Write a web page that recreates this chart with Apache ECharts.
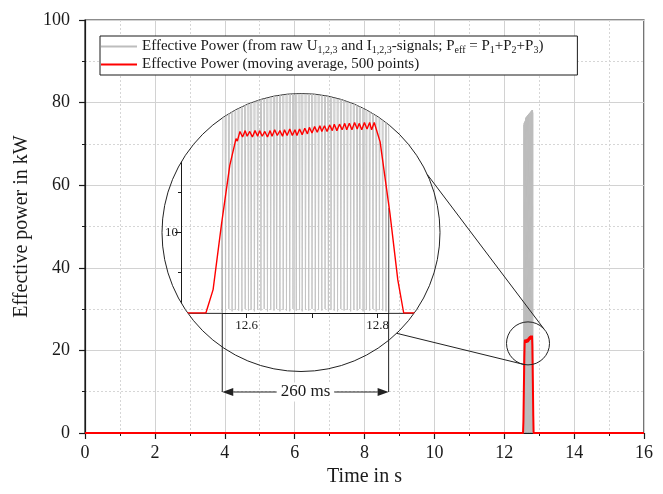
<!DOCTYPE html>
<html>
<head>
<meta charset="utf-8">
<script src="https://cdn.jsdelivr.net/npm/echarts@6/dist/echarts.min.js"></script>
<style>
  html, body { margin: 0; padding: 0; background: #fff; }
  #wrap { position: relative; width: 663px; height: 494px; }
  #main { position: absolute; left: 0; top: 0; width: 663px; height: 494px; }
  #inset { position: absolute; left: 150px; top: 60px; width: 300px; height: 330px;
           clip-path: circle(139px at 151px 172.5px); }
</style>
</head>
<body>
<div id="wrap">
  <div id="main"></div>
  <div id="inset"></div>
</div>
<script>
// Raw effective power P_eff = P1+P2+P3 (kW), peaks and troughs of the sampled signal
const rawTime = [0, 12.563,
  12.566, 12.568, 12.571, 12.573, 12.576, 12.578, 12.581, 12.583, 12.585, 12.588,
  12.590, 12.593, 12.595, 12.598, 12.600, 12.603, 12.605, 12.607, 12.610, 12.612,
  12.615, 12.617, 12.620, 12.622, 12.625, 12.627, 12.629, 12.632, 12.634, 12.637,
  12.639, 12.642, 12.644, 12.646, 12.649, 12.651, 12.654, 12.656, 12.659, 12.661,
  12.664, 12.666, 12.669, 12.671, 12.673, 12.676, 12.678, 12.681, 12.683, 12.685,
  12.688, 12.690, 12.693, 12.695, 12.698, 12.700, 12.703, 12.705, 12.708, 12.710,
  12.713, 12.715, 12.717, 12.720, 12.722, 12.725, 12.727, 12.729, 12.732, 12.734,
  12.737, 12.739, 12.742, 12.744, 12.747, 12.749, 12.752, 12.754, 12.757, 12.759,
  12.761, 12.764, 12.766, 12.769, 12.771, 12.773, 12.776, 12.778, 12.781, 12.783,
  12.786, 12.788, 12.791, 12.793, 12.796, 12.798, 12.801, 12.803, 12.805, 12.808,
  12.810, 12.813, 12.815, 12.818,
  16];
const rawPower = [0, 0,
  74.6, 0.3, 75.1, 0.5, 74.9, 0.2, 75.3, 0.4, 75.0, 0.3,
  75.4, 0.2, 75.2, 0.5, 75.6, 0.3, 75.3, 0.4, 75.5, 0.2,
  76.2, 0.4, 76.0, 0.3, 76.4, 0.5, 76.1, 0.2, 76.5, 0.4,
  76.3, 0.3, 76.6, 0.5, 76.4, 0.2, 76.7, 0.4, 76.5, 0.3,
  76.8, 0.2, 76.6, 0.5, 76.9, 0.3, 76.7, 0.4, 77.0, 0.2,
  76.8, 0.4, 77.1, 0.3, 76.9, 0.5, 77.2, 0.2, 77.0, 0.4,
  77.3, 0.3, 77.1, 0.5, 77.4, 0.2, 77.2, 0.4, 77.5, 0.3,
  77.3, 0.2, 77.6, 0.5, 77.4, 0.3, 77.7, 0.4, 77.5, 0.2,
  77.8, 0.4, 77.6, 0.3, 77.9, 0.5, 77.7, 0.2, 78.0, 0.4,
  77.8, 0.3, 78.1, 0.5, 77.9, 0.2, 78.2, 0.4, 78.0, 0.3,
  78.2, 0.2, 77.6, 0,
  0];

// Moving average over 500 points (kW)
const avgTime = [0, 12.538, 12.549, 12.562, 12.5745, 12.584, 12.586,
  12.590, 12.594, 12.598, 12.601, 12.605, 12.609, 12.613, 12.617, 12.620, 12.624,
  12.628, 12.632, 12.636, 12.639, 12.643, 12.647, 12.651, 12.655, 12.658, 12.662,
  12.666, 12.670, 12.674, 12.677, 12.681, 12.685, 12.689, 12.693, 12.696, 12.700,
  12.704, 12.708, 12.712, 12.715, 12.719, 12.723, 12.727, 12.731, 12.734, 12.738,
  12.742, 12.746, 12.750, 12.753, 12.757, 12.761, 12.765, 12.769, 12.772, 12.776,
  12.780, 12.784, 12.788, 12.791, 12.795,
  12.804, 12.819, 12.831, 12.840, 16];
const avgPower = [0, 0, 2.9, 11.1, 18.3, 21.6, 21.3,
  22.5, 21.8, 22.6, 21.9, 22.5, 21.8, 22.6, 21.9, 22.6, 21.9,
  22.5, 21.8, 22.6, 21.9, 22.7, 22.0, 22.6, 21.9, 22.7, 22.0,
  22.8, 22.0, 22.7, 22.0, 22.8, 22.1, 22.9, 22.2, 23.0, 22.3,
  23.1, 22.4, 23.2, 22.5, 23.2, 22.5, 23.3, 22.6, 23.4, 22.6,
  23.4, 22.7, 23.5, 22.7, 23.5, 22.7, 23.6, 22.8, 23.5, 22.7,
  23.6, 22.8, 23.6, 22.7, 23.6,
  21.2, 12.35, 4.1, 0, 0];

// Pulse-width dimension: start/end times and the power where each marker line begins
const pulseEdgeTime = [12.563, 12.817];
const pulseEdgePower = [11.2, 13.0];
const pulseLabel = '260 ms';

// Axis ticks
const xTicks = [0, 2, 4, 6, 8, 10, 12, 14, 16];
const yTicks = [0, 20, 40, 60, 80, 100];
const insetXLabels = [12.6, 12.8];
const insetXTicks = [12.6, 12.7, 12.8];

// Region of the main chart that the magnifier shows
const lensCentre = [12.68, 21.7];

const legendNames = {
  raw: 'Effective Power (from raw U{s|1,2,3} and I{s|1,2,3}-signals; P{s|eff} = P{s|1}+P{s|2}+P{s|3})',
  avg: 'Effective Power (moving average, 500 points)'
};

const FONT = '"Liberation Serif", "Times New Roman", serif';
const INK = '#1a1a1a';
const pairs = (xs, ys) => xs.map((x, i) => [x, ys[i]]);
const rawData = pairs(rawTime, rawPower);
const avgData = pairs(avgTime, avgPower);

// ---------- magnified inset (clipped to a circle by its container) ----------
const insetEl = document.getElementById('inset');
const INSET_LEFT = 150, INSET_TOP = 60;
const inset = echarts.init(insetEl, null, { renderer: 'canvas' });
inset.setOption({
  animation: false,
  backgroundColor: 'transparent',
  grid: { left: 31, top: 10.9, width: 262, height: 242.1 },
  xAxis: {
    type: 'value', min: 12.5, max: 12.9,
    axisLine: { show: true, onZero: false, lineStyle: { color: INK, width: 1 } },
    axisTick: { show: true, customValues: insetXTicks, length: 5, lineStyle: { color: INK } },
    axisLabel: { customValues: insetXLabels, formatter: v => v.toFixed(1),
                 fontFamily: FONT, fontSize: 13, color: INK, margin: 6 },
    splitLine: { show: false }
  },
  yAxis: {
    type: 'value', min: 0, max: 30, interval: 10,
    axisLine: { show: true, onZero: false, lineStyle: { color: INK, width: 1 } },
    axisTick: { show: true, length: 6, lineStyle: { color: INK } },
    minorTick: { show: true, splitNumber: 2, length: 3, lineStyle: { color: INK } },
    axisLabel: { fontFamily: FONT, fontSize: 13, color: INK, margin: 3 },
    splitLine: { show: false }
  },
  series: [
    { type: 'line', data: rawData, symbol: 'none', clip: true,
      lineStyle: { color: '#c4c4c4', width: 1 } },
    { type: 'line', data: avgData, symbol: 'none', clip: true,
      lineStyle: { color: '#ff0000', width: 1.4 } }
  ]
});

// ---------- main chart ----------
const main = echarts.init(document.getElementById('main'), null, { renderer: 'canvas' });
const axisCommon = {
  type: 'value',
  nameLocation: 'middle',
  nameTextStyle: { fontFamily: FONT, fontSize: 20, color: INK },
  axisLine: { show: true, onZero: false, lineStyle: { color: INK, width: 1.2 } },
  axisTick: { show: true, length: 6, lineStyle: { color: INK, width: 1.2 } },
  minorTick: { show: true, splitNumber: 2, length: 3, lineStyle: { color: INK, width: 1 } },
  splitLine: { show: true, lineStyle: { color: '#d2d2d2', width: 1 } },
  minorSplitLine: { show: true, lineStyle: { color: '#d6d6d6', width: 1, type: [2, 2] } },
  axisLabel: { fontFamily: FONT, fontSize: 18, color: INK }
};

main.setOption({
  animation: false,
  backgroundColor: '#fff',
  grid: { left: 85, top: 20, width: 559, height: 413, show: true,
          borderColor: INK, borderWidth: 1.2, backgroundColor: 'transparent' },
  xAxis: Object.assign({}, axisCommon, {
    min: xTicks[0], max: xTicks[xTicks.length - 1], interval: xTicks[1] - xTicks[0],
    name: 'Time in s', nameGap: 31,
    axisLabel: Object.assign({}, axisCommon.axisLabel, { margin: 11 })
  }),
  yAxis: Object.assign({}, axisCommon, {
    min: yTicks[0], max: yTicks[yTicks.length - 1], interval: yTicks[1] - yTicks[0],
    name: 'Effective power in kW', nameGap: 50,
    axisLabel: Object.assign({}, axisCommon.axisLabel, { margin: 15 })
  }),
  legend: {
    left: 100, top: 36, orient: 'vertical',
    data: [
      { name: 'raw', icon: 'rect', itemStyle: { color: '#bdbdbd' } },
      { name: 'avg', icon: 'rect', itemStyle: { color: '#ff0000' } }
    ],
    itemWidth: 36, itemHeight: 2, itemGap: 2,
    padding: [3, 34, 3, 1],
    borderColor: INK, borderWidth: 1, backgroundColor: '#fff',
    formatter: n => legendNames[n],
    textStyle: {
      fontFamily: FONT, fontSize: 15, color: INK,
      rich: { s: { fontFamily: FONT, fontSize: 10, color: INK, padding: [7, 0, 0, 0] } }
    }
  },
  series: [
    { name: 'raw', type: 'line', data: rawData, symbol: 'none',
      lineStyle: { color: '#bdbdbd', width: 1 }, itemStyle: { color: '#bdbdbd' } },
    { name: 'avg', type: 'line', data: avgData, symbol: 'none',
      lineStyle: { color: '#ff0000', width: 2 }, itemStyle: { color: '#ff0000' } }
  ]
});

// ---------- magnifier outline, connectors and pulse-width dimension ----------
const BIG = { cx: 301, cy: 232.5, r: 139 };
const small = main.convertToPixel({ gridIndex: 0 }, lensCentre);
const SMALL_R = 21.5;
const onCircle = (c, r, deg) => {
  const a = deg * Math.PI / 180;
  return [c[0] + r * Math.cos(a), c[1] + r * Math.sin(a)];
};
const bigC = [BIG.cx, BIG.cy];
const upA = onCircle(bigC, BIG.r, -24.6), upB = onCircle(small, SMALL_R, -42);
const loA = onCircle(bigC, BIG.r, 46.5), loB = onCircle(small, SMALL_R, 100);

const toPage = p => [p[0] + INSET_LEFT, p[1] + INSET_TOP];
const edgeL = toPage(inset.convertToPixel({ gridIndex: 0 }, [pulseEdgeTime[0], pulseEdgePower[0]]));
const edgeR = toPage(inset.convertToPixel({ gridIndex: 0 }, [pulseEdgeTime[1], pulseEdgePower[1]]));
const DIM_Y = 392;
const AH = 11, AW = 4;

const lineEl = (a, b) => ({ type: 'line', z: 100, silent: true,
  shape: { x1: a[0], y1: a[1], x2: b[0], y2: b[1] },
  style: { stroke: '#222', lineWidth: 1 } });

main.setOption({
  graphic: [
    { type: 'circle', z: 100, silent: true, shape: { cx: BIG.cx, cy: BIG.cy, r: BIG.r },
      style: { fill: 'none', stroke: '#222', lineWidth: 1 } },
    { type: 'circle', z: 100, silent: true, shape: { cx: small[0], cy: small[1], r: SMALL_R },
      style: { fill: 'none', stroke: '#222', lineWidth: 1 } },
    lineEl(upA, upB),
    lineEl(loA, loB),
    lineEl(edgeL, [edgeL[0], DIM_Y]),
    lineEl(edgeR, [edgeR[0], DIM_Y]),
    lineEl([edgeL[0] + AH, DIM_Y], [edgeR[0] - AH, DIM_Y]),
    { type: 'polygon', z: 100, silent: true,
      shape: { points: [[edgeL[0], DIM_Y], [edgeL[0] + AH, DIM_Y - AW], [edgeL[0] + AH, DIM_Y + AW]] },
      style: { fill: '#222' } },
    { type: 'polygon', z: 100, silent: true,
      shape: { points: [[edgeR[0], DIM_Y], [edgeR[0] - AH, DIM_Y - AW], [edgeR[0] - AH, DIM_Y + AW]] },
      style: { fill: '#222' } },
    { type: 'text', z: 101, silent: true,
      x: (edgeL[0] + edgeR[0]) / 2, y: DIM_Y,
      style: { text: pulseLabel, fontFamily: FONT, fontSize: 17, fill: INK,
               align: 'center', verticalAlign: 'middle',
               backgroundColor: '#fff', padding: [1, 4, 1, 4] } }
  ]
});
</script>
</body>
</html>
